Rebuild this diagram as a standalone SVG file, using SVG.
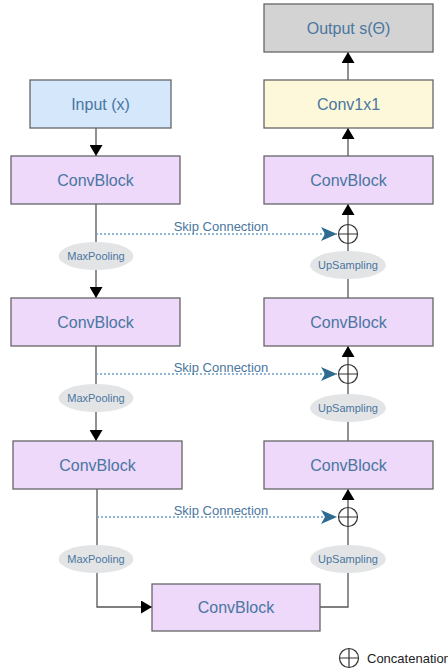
<svg xmlns="http://www.w3.org/2000/svg" width="448" height="671" viewBox="0 0 448 671">
<defs>
<style>
.box{stroke:#666;stroke-width:1.3}
.cb{fill:#eed9fb}
.lbl{font-family:"Liberation Sans",Arial,sans-serif;font-size:16px;fill:#4a76a0;text-anchor:middle;dominant-baseline:central}
.ell{fill:#e3e4e5}
.op{font-family:"Liberation Sans",Arial,sans-serif;font-size:11px;fill:#4a76a0;text-anchor:middle;dominant-baseline:central}
.skip{font-family:"Liberation Sans",Arial,sans-serif;font-size:13px;fill:#4a76a0;text-anchor:middle}
.ln{fill:none;stroke:#555;stroke-width:1.3}
.dot{fill:none;stroke:#6b9cc6;stroke-width:1.3;stroke-dasharray:2 2}
.cat{fill:#fff;stroke:#333;stroke-width:1.2}
</style>
<marker id="ah" markerUnits="userSpaceOnUse" markerWidth="11" markerHeight="13" refX="11" refY="6.5" orient="auto">
<path d="M0,0 L11,6.5 L0,13 z" fill="#000"/>
</marker>
<marker id="bh" markerUnits="userSpaceOnUse" markerWidth="16" markerHeight="14" refX="16" refY="7" orient="auto">
<path d="M0,0 L16,7 L0,14 L4,7 z" fill="#2f6b90"/>
</marker>
<g id="catsym">
<circle class="cat" cx="0" cy="0" r="9.5"/>
<path d="M-9.5,0 H9.5 M0,-9.5 V9.5" stroke="#333" stroke-width="1.2"/>
</g>
</defs>
<rect width="448" height="671" fill="#fff"/>

<g id="connectors">
<path class="ln" d="M96,128 V156" marker-end="url(#ah)"/>
<path class="ln" d="M96,204 V298" marker-end="url(#ah)"/>
<path class="ln" d="M96,346 V441" marker-end="url(#ah)"/>
<path class="ln" d="M97,489 V607 H152" marker-end="url(#ah)"/>
<path class="ln" d="M320,607 H348 V527"/>
<path class="ln" d="M348,507 V489" marker-end="url(#ah)"/>
<path class="ln" d="M348,441 V384"/>
<path class="ln" d="M348,364 V346" marker-end="url(#ah)"/>
<path class="ln" d="M348,298 V244"/>
<path class="ln" d="M348,224 V204" marker-end="url(#ah)"/>
<path class="ln" d="M348,156 V128" marker-end="url(#ah)"/>
<path class="ln" d="M348,80 V52" marker-end="url(#ah)"/>
<path class="dot" d="M96,234 H337" marker-end="url(#bh)"/>
<path class="dot" d="M96,374 H337" marker-end="url(#bh)"/>
<path class="dot" d="M97,517 H337" marker-end="url(#bh)"/>
<text class="skip" x="221" y="231">Skip Connection</text>
<text class="skip" x="221" y="372">Skip Connection</text>
<text class="skip" x="221" y="515">Skip Connection</text>
<g id="mp1"><ellipse class="ell" cx="96" cy="256" rx="37.5" ry="14"/><text class="op" x="96" y="256">MaxPooling</text></g>
<g id="mp2"><ellipse class="ell" cx="96" cy="398" rx="37.5" ry="14"/><text class="op" x="96" y="398">MaxPooling</text></g>
<g id="mp3"><ellipse class="ell" cx="96" cy="559" rx="37.5" ry="14"/><text class="op" x="96" y="559">MaxPooling</text></g>
<g id="up1"><ellipse class="ell" cx="348" cy="265" rx="38" ry="14"/><text class="op" x="348" y="265">UpSampling</text></g>
<g id="up2"><ellipse class="ell" cx="348" cy="408" rx="38" ry="14"/><text class="op" x="348" y="408">UpSampling</text></g>
<g id="up3"><ellipse class="ell" cx="348" cy="559" rx="38" ry="14"/><text class="op" x="348" y="559">UpSampling</text></g>
</g>

<g id="cat1"><use href="#catsym" x="348" y="234"/></g>
<g id="cat2"><use href="#catsym" x="348" y="374"/></g>
<g id="cat3"><use href="#catsym" x="348" y="517"/></g>

<g id="output"><rect class="box" x="264" y="4" width="169" height="48" fill="#d3d3d3"/><text class="lbl" x="348.5" y="28">Output s(Θ)</text></g>
<g id="input"><rect class="box" x="30" y="80" width="141" height="48" fill="#d4e7fb"/><text class="lbl" x="100.5" y="104">Input (x)</text></g>
<g id="conv1x1"><rect class="box" x="264" y="80" width="169" height="48" fill="#fdf8d9"/><text class="lbl" x="348.5" y="104">Conv1x1</text></g>
<g id="enc1"><rect class="box cb" x="11" y="156" width="169" height="48"/><text class="lbl" x="95.5" y="180">ConvBlock</text></g>
<g id="dec1"><rect class="box cb" x="264" y="156" width="169" height="48"/><text class="lbl" x="348.5" y="180">ConvBlock</text></g>
<g id="enc2"><rect class="box cb" x="11" y="298" width="169" height="48"/><text class="lbl" x="95.5" y="322">ConvBlock</text></g>
<g id="dec2"><rect class="box cb" x="264" y="298" width="169" height="48"/><text class="lbl" x="348.5" y="322">ConvBlock</text></g>
<g id="enc3"><rect class="box cb" x="13" y="441" width="169" height="48"/><text class="lbl" x="97.5" y="465">ConvBlock</text></g>
<g id="dec3"><rect class="box cb" x="264" y="441" width="169" height="48"/><text class="lbl" x="348.5" y="465">ConvBlock</text></g>
<g id="bottleneck"><rect class="box cb" x="152" y="584" width="168" height="47"/><text class="lbl" x="236" y="607.5">ConvBlock</text></g>

<g id="legend">
<use href="#catsym" x="349" y="658"/>
<text x="367" y="662.5" font-family="'Liberation Sans',Arial,sans-serif" font-size="13" fill="#222">Concatenation</text>
</g>
</svg>
